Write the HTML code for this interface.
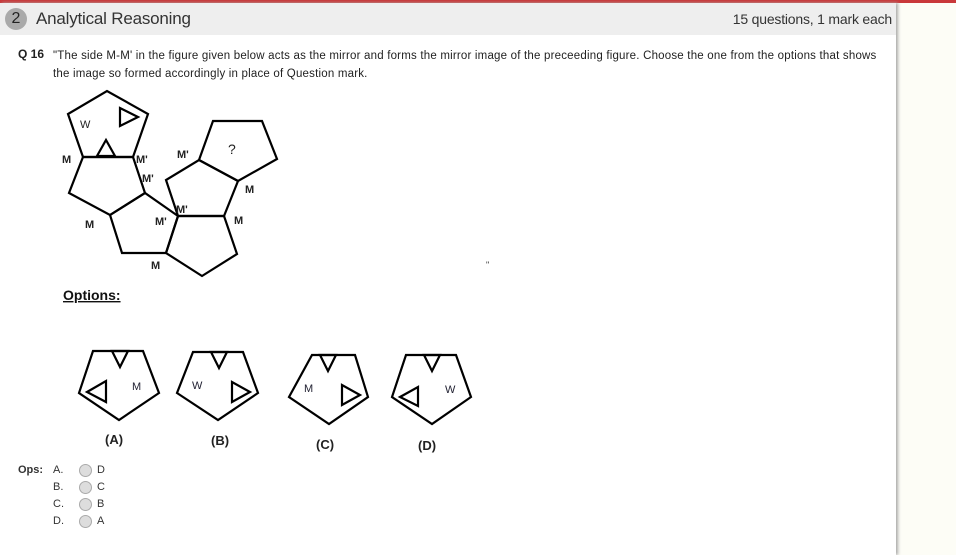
<!DOCTYPE html>
<html><head><meta charset="utf-8"><style>
body{margin:0;width:956px;height:555px;overflow:hidden;background:#fdfdf6;font-family:"Liberation Sans",sans-serif;position:relative}
#topbar{position:absolute;left:0;top:0;width:956px;height:3px;background:#c9383a}
#panel{position:absolute;left:0;top:3px;width:896px;height:552px;background:#fff;box-shadow:2px 0 3px #aaa}
#hdr{position:absolute;left:0;top:0;width:896px;height:32px;background:#eeeeee}
#num{position:absolute;left:5px;top:5px;width:22px;height:22px;border-radius:11px;background:#aaa;color:#222;font-size:16px;text-align:center;line-height:22px}
#title{position:absolute;left:36px;top:6px;font-size:17px;color:#333;letter-spacing:-0.2px}
#marks{position:absolute;right:4px;top:8px;font-size:14px;color:#333;letter-spacing:-0.2px}
#q{position:absolute;left:18px;top:44px;font-size:12px;font-weight:bold;color:#222}
#qtext{position:absolute;left:53px;top:44px;width:828px;font-size:11.5px;line-height:18px;color:#222;letter-spacing:0.2px}
svg{position:absolute;left:0;top:0}
.ops{position:absolute;font-size:11px;color:#333}
.rad{position:absolute;width:11px;height:11px;border-radius:7px;background:#ddd;border:1px solid #aaa}
</style></head><body>
<div id="topbar"></div>
<div id="panel">
<div id="hdr">
<div id="num">2</div>
<div id="title">Analytical Reasoning</div>
<div id="marks">15 questions, 1 mark each</div>
</div>
<div id="q">Q 16</div>
<div id="qtext">"The side M-M' in the figure given below acts as the mirror and forms the mirror image of the preceeding figure. Choose the one from the options that shows the image so formed accordingly in place of Question mark.</div>
</div>
<svg width="956" height="555" font-family="Liberation Sans,sans-serif">
<g fill="none" stroke="#000" stroke-width="2.2">
<polygon points="68,114 83,157 133,157 148,114 107,91"/>
<polygon points="83,157 133,157 145,193 110,215 69,193"/>
<polygon points="110,215 145,193 178,216 166,253 122,253"/>
<polygon points="178,216 224,216 237,254 202,276 166,253"/>
<polygon points="178,216 166,180 199,160 238,181 224,216"/>
<polygon points="199,160 213,121 262,121 277,159 238,181"/>
<polygon points="120,108 120,126 138,117"/>
<polygon points="97,156 115,156 106,140"/>
</g>
<g font-size="11" font-weight="bold" fill="#222">
<text x="80" y="128" font-weight="normal">W</text>
<text x="62" y="163">M</text><text x="136" y="163">M'</text><text x="142" y="182">M'</text>
<text x="177" y="158">M'</text><text x="228" y="154" font-size="14" font-weight="normal">?</text>
<text x="245" y="193">M</text><text x="176" y="213">M'</text><text x="155" y="225">M'</text>
<text x="234" y="224">M</text><text x="85" y="228">M</text><text x="151" y="269">M</text>
</g>
<text x="63" y="300" font-size="14" font-weight="bold" text-decoration="underline" fill="#111">Options:</text>
<g fill="none" stroke="#000" stroke-width="2.2">
<polygon points="93,351 143,351 159,393 119,420 79,393"/>
<polygon points="112,351 128,351 120,367"/>
<polygon points="106,381 106,402 87,392"/>
<polygon points="193,352 243,352 258,393 218,420 177,393"/>
<polygon points="211,352 227,352 219,368"/>
<polygon points="232,382 232,402 250,392"/>
<polygon points="312,355 355,355 368,397 329,424 289,397"/>
<polygon points="320,355 336,355 328,371"/>
<polygon points="342,385 342,405 360,395"/>
<polygon points="406,355 456,355 471,397 432,424 392,397"/>
<polygon points="424,355 440,355 432,371"/>
<polygon points="418,387 418,406 400,397"/>
</g>
<g font-size="11" fill="#223">
<text x="132" y="390">M</text><text x="192" y="389">W</text><text x="304" y="392">M</text><text x="445" y="393">W</text>
</g>
<g font-size="13" font-weight="bold" fill="#222">
<text x="105" y="444">(A)</text><text x="211" y="445">(B)</text><text x="316" y="449">(C)</text><text x="418" y="450">(D)</text>
</g>
<text x="486" y="268" font-size="9" fill="#333">"</text>
</svg>
<div class="ops" style="left:18px;top:464px;font-weight:bold">Ops:</div>
<div class="ops" style="left:53px;top:464px">A.</div>
<div class="ops" style="left:53px;top:481px">B.</div>
<div class="ops" style="left:53px;top:498px">C.</div>
<div class="ops" style="left:53px;top:515px">D.</div>
<div class="rad" style="left:79px;top:464px"></div>
<div class="rad" style="left:79px;top:481px"></div>
<div class="rad" style="left:79px;top:498px"></div>
<div class="rad" style="left:79px;top:515px"></div>
<div class="ops" style="left:97px;top:464px">D</div>
<div class="ops" style="left:97px;top:481px">C</div>
<div class="ops" style="left:97px;top:498px">B</div>
<div class="ops" style="left:97px;top:515px">A</div>
</body></html>
